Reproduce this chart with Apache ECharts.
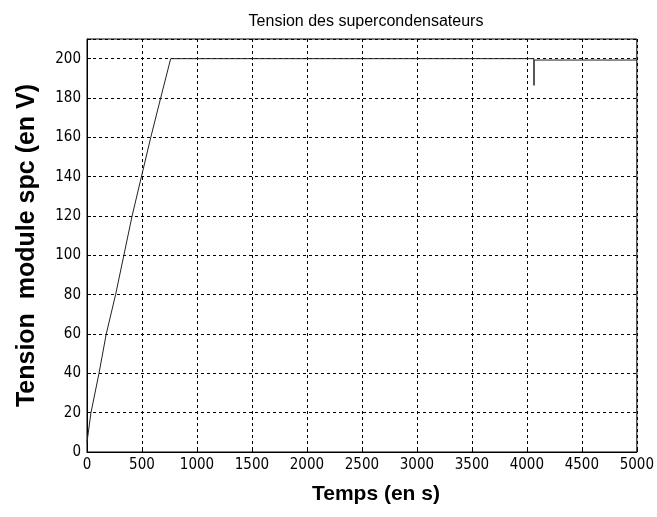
<!DOCTYPE html>
<html><head><meta charset="utf-8">
<script src="https://cdn.jsdelivr.net/npm/echarts@6/dist/echarts.min.js"></script>
<style>html,body{margin:0;padding:0;background:#fff}#c{width:657px;height:517px}</style>
</head><body><div id="c"></div>
<script>
var timeS = [0, 36, 109, 175, 260, 335, 410, 495, 580, 670, 761, 4064, 4065, 4066, 5000];
var voltageV = [5, 20, 40, 60, 80, 100, 120, 140, 160, 180, 200, 200, 186.4, 199.3, 199.3];
var xTicks = [0, 500, 1000, 1500, 2000, 2500, 3000, 3500, 4000, 4500, 5000];
var yTicks = [0, 20, 40, 60, 80, 100, 120, 140, 160, 180, 200];

var data = timeS.map(function (t, i) { return [t, voltageV[i]]; });
var chart = echarts.init(document.getElementById('c'));
var font = 'Liberation Sans, Arial, sans-serif';
var narrow = '"Liberation Sans Narrow", "DejaVu Sans Condensed", Arial, sans-serif';
var gridLine = { show: true, lineStyle: { color: '#000', type: [3, 3], width: 1 } };
chart.setOption({
  animation: false,
  title: {
    text: 'Tension des supercondensateurs',
    left: 361, top: 9, textAlign: 'center',
    textStyle: { fontFamily: font, fontSize: 16, fontWeight: 'normal', color: '#000' }
  },
  grid: { left: 87, top: 39, right: 18, bottom: 65, show: true, borderColor: '#000', borderWidth: 1, backgroundColor: '#fff' },
  xAxis: {
    type: 'value', min: 0, max: 5000, interval: 500,
    name: 'Temps (en s)', nameLocation: 'middle', nameGap: 32,
    nameTextStyle: { fontFamily: font, fontSize: 21, fontWeight: 'bold', color: '#000', padding: [0, 0, 0, 28] },
    axisLine: { show: true, lineStyle: { color: '#000' } },
    axisTick: { show: true, inside: true, length: 4, lineStyle: { color: '#000' } },
    axisLabel: { fontFamily: narrow, fontSize: 15, color: '#000', margin: 6,
      formatter: function (v) { return xTicks.indexOf(v) >= 0 ? String(v) : ''; } },
    splitLine: gridLine
  },
  yAxis: {
    type: 'value', min: 0, max: 210, interval: 20,
    name: 'Tension  module spc (en V)', nameLocation: 'middle', nameGap: 47,
    nameTextStyle: { fontFamily: font, fontSize: 25, fontWeight: 'bold', color: '#000' },
    axisLine: { show: true, lineStyle: { color: '#000' } },
    axisTick: { show: true, inside: true, length: 4, lineStyle: { color: '#000' } },
    axisLabel: { fontFamily: narrow, fontSize: 15, color: '#000', margin: 6,
      formatter: function (v) { return yTicks.indexOf(v) >= 0 ? String(v) : ''; } },
    splitLine: gridLine
  },
  series: [{
    type: 'line', data: data, showSymbol: false, symbol: 'none',
    lineStyle: { color: '#222', width: 1 }
  }]
});
</script></body></html>
